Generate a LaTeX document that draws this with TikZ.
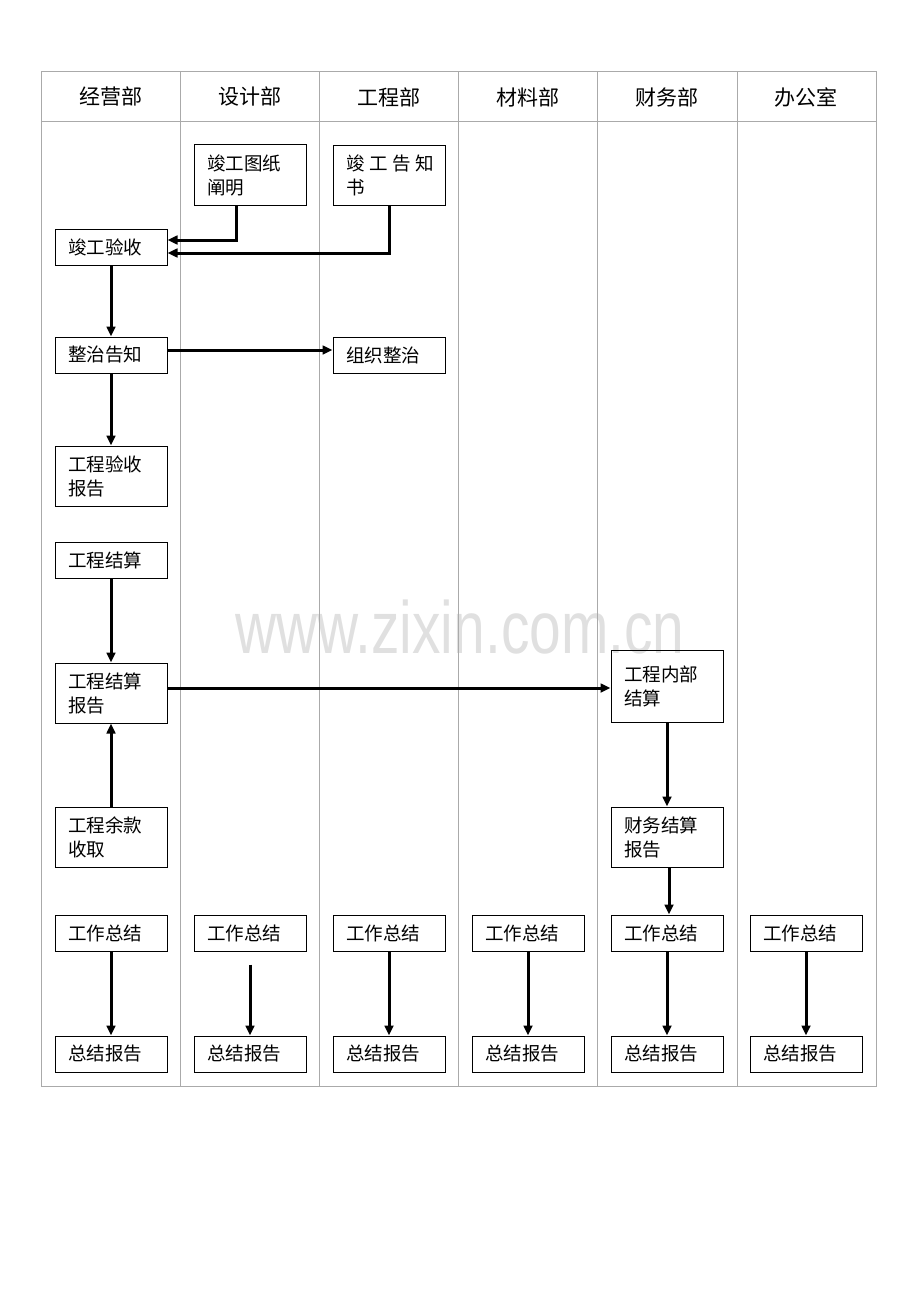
\documentclass[tikz,border=0pt]{standalone}
\usepackage{fontspec}
\setmainfont{Noto Sans CJK SC}
\newfontfamily\wmfont{Liberation Sans}
\usetikzlibrary{arrows.meta}
\usetikzlibrary{calc}
\definecolor{gitter}{RGB}{170,170,170}
\definecolor{wasserzeichen}{RGB}{224,224,224}

\begin{document}
\begin{tikzpicture}[x=0.75pt, y=-0.75pt,
    kasten/.style={draw=black, line width=0.75pt, minimum width=84pt, minimum height=27pt,
        text width=64.5pt, inner xsep=9.75pt, align=left, font=\fontsize{13.9}{18}\selectfont},
    hoch/.style={kasten, minimum height=45pt},
    fluss/.style={line width=2.25pt, -{Triangle[length=7.5pt,width=6.5pt]}},
    kopf/.style={font=\fontsize{15.75}{18}\selectfont}]

    \useasboundingbox (0,0) rectangle (920,1302);

    % watermark
    \node[anchor=base, text=wasserzeichen, font=\wmfont\fontsize{42.7}{50}\selectfont, yscale=1.3] (wm) at (460,653) {www.zixin.com.cn};

    % table
    \draw[gitter, line width=0.75pt] (41,72) rectangle (876,1086);
    \draw[gitter, line width=0.75pt] (41,122) -- (876,122);
    \foreach \x in {180,319,458,597,737}
        \draw[gitter, line width=0.75pt] (\x,72) -- (\x,1086);
    \foreach \name [count=\i] in {经营部,设计部,工程部,材料部,财务部,办公室}
        \node[kopf] (kopf\i) at ({41+139.17*(\i-0.5)},97) {\name};

    % boxes
    \node[hoch] (tuzhi) at (250,175) {竣工图纸\\阐明};
    \node[hoch] (gaozhi) at (389,175.5) {\mbox{竣\hspace{3.4pt}工\hspace{3.4pt}告\hspace{3.4pt}知}\\书};
    \node[kasten] (yanshou) at (111,247) {竣工验收};
    \node[kasten] (zhengzhi) at (111,355) {整治告知};
    \node[kasten] (zuzhi) at (389,355) {组织整治};
    \node[hoch] (yanshoubg) at (111,476) {工程验收\\报告};
    \node[kasten] (jiesuan) at (111,560) {工程结算};
    \node[hoch] (jiesuanbg) at (111,693) {工程结算\\报告};
    \node[hoch, minimum height=54pt] (neibu) at (667,686) {工程内部\\结算};
    \node[hoch] (yukuan) at (111,837.5) {工程余款\\收取};
    \node[hoch] (caiwu) at (667,837) {财务结算\\报告};
    \foreach \x [count=\i] in {111,250,389,528,667,806} {
        \node[kasten] (zj\i) at (\x,933) {工作总结};
        \node[kasten] (bg\i) at (\x,1054) {总结报告};
    }

    % arrows
    \draw[fluss] ([xshift=-10.5pt]tuzhi.south) |- ([yshift=5.25pt]yanshou.east);
    \draw[fluss] (gaozhi.south) |- ([yshift=-4.5pt]yanshou.east);
    \draw[fluss] (yanshou) -- (zhengzhi);
    \coordinate (p1) at ([yshift=3.75pt]zhengzhi.east);
    \draw[fluss] (p1) -- (p1 -| zuzhi.west);
    \draw[fluss] (zhengzhi) -- (yanshoubg);
    \draw[fluss] (jiesuan) -- (jiesuanbg);
    \coordinate (p2) at ([yshift=3.75pt]jiesuanbg.east);
    \draw[fluss] (p2) -- (p2 -| neibu.west);
    \draw[fluss] (yukuan) -- (jiesuanbg);
    \draw[fluss] (neibu) -- (caiwu);
    \draw[fluss] ([xshift=1.5pt]caiwu.south) -- ([xshift=1.5pt]zj5.north);
    \foreach \i in {1,3,4,5,6}
        \draw[fluss] (zj\i) -- (bg\i);
    \draw[fluss] ([yshift=-9.75pt]zj2.south) -- (bg2);

\end{tikzpicture}
\end{document}
